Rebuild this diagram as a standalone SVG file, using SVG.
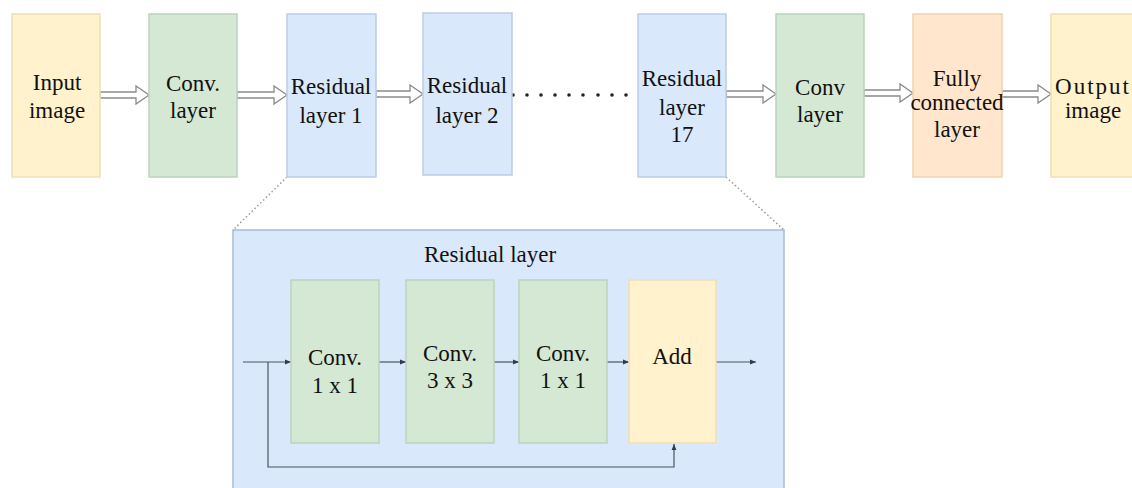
<svg xmlns="http://www.w3.org/2000/svg" width="1132" height="488" viewBox="0 0 1132 488">
<defs>
<style>
.t{font-family:"Liberation Serif","Times New Roman",serif;font-size:23px;fill:#111;text-anchor:middle}
.yel{fill:#fff2cc;stroke:#eedfb4;stroke-width:1.5}
.grn{fill:#d5e8d4;stroke:#bcd3bb;stroke-width:1.5}
.blu{fill:#dae8fc;stroke:#bccde6;stroke-width:1.5}
.org{fill:#ffe6cc;stroke:#f0d2b2;stroke-width:1.5}
.big{fill:#dae8fc;stroke:#a9bbd3;stroke-width:1.5}
.ha{fill:#fff;stroke:#8a8a8a;stroke-width:1.3}
.ln{fill:none;stroke:#4a5260;stroke-width:1.2}
.dot{fill:none;stroke:#9a9a9a;stroke-width:1.5;stroke-dasharray:1.5 2.5}
</style>
<marker id="ah" viewBox="0 0 10 10" refX="10" refY="5" markerWidth="6" markerHeight="6" orient="auto" markerUnits="userSpaceOnUse">
<path d="M0,1 L10,5 L0,9 Z" fill="#333a48"/>
</marker>
</defs>
<rect width="1132" height="488" fill="#fff"/>

<g id="residual-detail">
<rect class="big" x="233" y="230" width="551" height="262"/>
<text class="t" x="490" y="262">Residual layer</text>
</g>

<g id="connectors">
<path class="ha" d="M100,92 L136,92 L136,86 L149,95 L136,104 L136,98 L100,98 Z"/>
<path class="ha" d="M237,92 L274,92 L274,86 L287,95 L274,104 L274,98 L237,98 Z"/>
<path class="ha" d="M376,91 L410,91 L410,85 L423,94 L410,103 L410,97 L376,97 Z"/>
<path class="ha" d="M726,91 L763,91 L763,85 L776,94 L763,103 L763,97 L726,97 Z"/>
<path class="ha" d="M864,90 L900,90 L900,84 L913,93 L900,102 L900,96 L864,96 Z"/>
<path class="ha" d="M1002,91 L1038,91 L1038,85 L1051,94 L1038,103 L1038,97 L1002,97 Z"/>
<g fill="#222">
<circle cx="513" cy="95" r="1.8"/><circle cx="527" cy="95" r="1.8"/><circle cx="541" cy="95" r="1.8"/>
<circle cx="555" cy="95" r="1.8"/><circle cx="569" cy="95" r="1.8"/><circle cx="583" cy="95" r="1.8"/>
<circle cx="598" cy="95" r="1.8"/><circle cx="612" cy="95" r="1.8"/><circle cx="626" cy="95" r="1.8"/>
</g>
<line class="dot" x1="287" y1="177" x2="233" y2="230"/>
<line class="dot" x1="726" y1="177" x2="784" y2="230"/>
<line class="ln" x1="243" y1="362" x2="291" y2="362" marker-end="url(#ah)"/>
<line class="ln" x1="379" y1="362" x2="406" y2="362" marker-end="url(#ah)"/>
<line class="ln" x1="494" y1="362" x2="519" y2="362" marker-end="url(#ah)"/>
<line class="ln" x1="607" y1="362" x2="629" y2="362" marker-end="url(#ah)"/>
<line class="ln" x1="716" y1="362" x2="756" y2="362" marker-end="url(#ah)"/>
<path class="ln" d="M268,362 L268,467 L674,467 L674,444" marker-end="url(#ah)"/>
</g>

<g id="input-image">
<rect class="yel" x="12" y="14" width="88" height="163"/>
<text class="t" x="57" y="90">Input</text>
<text class="t" x="57" y="118">image</text>
</g>
<g id="conv-layer-1">
<rect class="grn" x="149" y="14" width="88" height="163"/>
<text class="t" x="193" y="91">Conv.</text>
<text class="t" x="193" y="118">layer</text>
</g>
<g id="residual-layer-1">
<rect class="blu" x="287" y="14" width="89" height="163"/>
<text class="t" x="331" y="94">Residual</text>
<text class="t" x="331" y="123">layer 1</text>
</g>
<g id="residual-layer-2">
<rect class="blu" x="423" y="13" width="89" height="162"/>
<text class="t" x="467" y="93">Residual</text>
<text class="t" x="467" y="123">layer 2</text>
</g>
<g id="residual-layer-17">
<rect class="blu" x="638" y="14" width="88" height="163"/>
<text class="t" x="682" y="86">Residual</text>
<text class="t" x="682" y="115">layer</text>
<text class="t" x="682" y="142">17</text>
</g>
<g id="conv-layer-2">
<rect class="grn" x="776" y="14" width="88" height="163"/>
<text class="t" x="820" y="95">Conv</text>
<text class="t" x="820" y="122">layer</text>
</g>
<g id="fully-connected">
<rect class="org" x="913" y="14" width="89" height="163"/>
<text class="t" x="957" y="86">Fully</text>
<text class="t" x="957" y="110">connected</text>
<text class="t" x="957" y="137">layer</text>
</g>
<g id="output-image">
<rect class="yel" x="1051" y="14" width="90" height="163"/>
<text class="t" x="1093" y="94" letter-spacing="2">Output</text>
<text class="t" x="1093" y="118">image</text>
</g>

<g id="conv-1x1-a">
<rect class="grn" x="291" y="280" width="88" height="163"/>
<text class="t" x="335" y="365">Conv.</text>
<text class="t" x="335" y="393">1 x 1</text>
</g>
<g id="conv-3x3">
<rect class="grn" x="406" y="280" width="88" height="163"/>
<text class="t" x="450" y="361">Conv.</text>
<text class="t" x="450" y="388">3 x 3</text>
</g>
<g id="conv-1x1-b">
<rect class="grn" x="519" y="280" width="88" height="163"/>
<text class="t" x="563" y="361">Conv.</text>
<text class="t" x="563" y="388">1 x 1</text>
</g>
<g id="add">
<rect class="yel" x="629" y="280" width="87" height="163"/>
<text class="t" x="672" y="364">Add</text>
</g>
</svg>
